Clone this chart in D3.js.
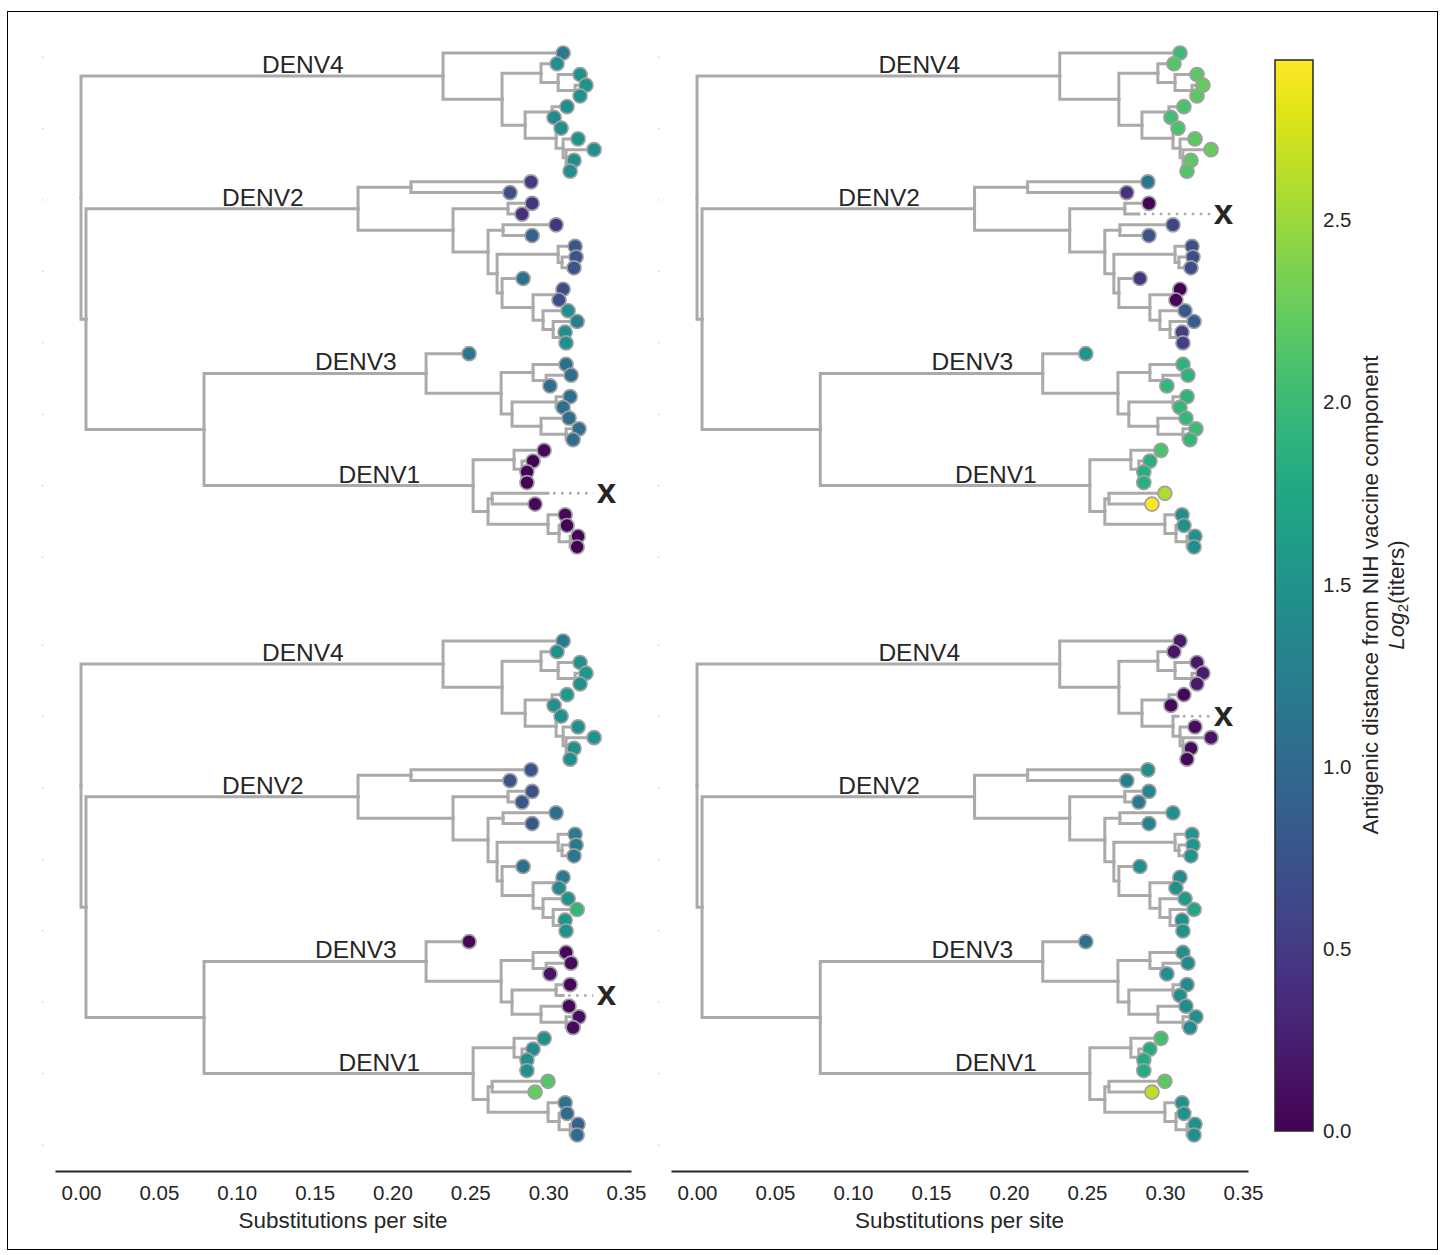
<!DOCTYPE html>
<html>
<head>
<meta charset="utf-8">
<script src="https://cdn.jsdelivr.net/npm/d3@7"></script>
<style>
  body { margin: 0; background: #fff; }
  text { font-family: "Liberation Sans", Arial, Helvetica, sans-serif; fill: #262626; }
</style>
</head>
<body>
<div id="chart"></div>
<script>
"use strict";

// tree topology, the number after ":" is cumulative divergence (substitutions per site)
var denv4Clade = "(:0.3096,((:0.3057,(:0.3205,(:0.3243,:0.3205):0.3173):0.3064):0.2954,((:0.3121,:0.3038):0.3025,(:0.3083,(:0.3192,(:0.3295,(:0.3166,:0.3141):0.3128):0.3115):0.3096):0.3051):0.2852):0.2704)DENV4:0.2325";
var denv2Clade = "((:0.2890,:0.2755):0.2119,((:0.2897,:0.2832):0.2742,((:0.3051,:0.2897):0.2710,((:0.3173,(:0.3179,:0.3166):0.3089):0.3064,(:0.2839,((:0.3096,:0.3070):0.3057,(:0.3128,(:0.3186,(:0.3109,:0.3115):0.3096):0.3032):0.2967):0.2903):0.2704):0.2672):0.2614):0.2389)DENV2:0.1779";
var denv3Clade = "(:0.2492,((:0.3115,(:0.3147,:0.3012):0.2987):0.2903,((:0.3141,:0.3096):0.3051,(:0.3134,(:0.3198,:0.3160):0.3115):0.2954):0.2768):0.2698)DENV3:0.2216";
var denv1Clade = "((:0.2974,(:0.2903,(:0.2864,:0.2864):0.2839):0.2832):0.2781,((:0.2999,:0.2916):0.2640,(:0.3109,(:0.3121,(:0.3192,:0.3186):0.3141):0.3070):0.2999):0.2614)DENV1:0.2518";
var treeNewick = "(" + denv4Clade + ",(" + denv2Clade + ",(" + denv3Clade + "," + denv1Clade + "):0.0790):0.0032):0;";

// antigenic distance per tip, in tree order (DENV4 12, DENV2 16, DENV3 9, DENV1 10); null = tip drawn as x
var valuesTopLeft = [
  1.2, 1.45, 1.5, 1.5, 1.5, 1.45, 1.4, 1.45, 1.5, 1.5, 1.45, 1.45,
  0.5, 0.72, 0.45, 0.4, 0.45, 0.9, 0.78, 0.78, 0.78, 1.1, 0.68, 0.7, 1.45, 1.25, 1.45, 1.45,
  1.15, 1.05, 1.05, 1.05, 1.05, 1.05, 1.05, 1.05, 1.05,
  0.05, 0.02, 0.02, 0.02, null, 0.05, 0.05, 0.02, 0.03, 0.02
];
var valuesTopRight = [
  2.0, 2.15, 2.2, 2.25, 2.2, 2.1, 2.05, 2.1, 2.2, 2.25, 2.2, 2.15,
  1.15, 0.42, 0.03, null, 0.6, 0.75, 0.68, 0.68, 0.7, 0.45, 0.0, 0.05, 0.8, 0.85, 0.55, 0.55,
  1.55, 1.9, 1.9, 1.95, 1.9, 1.95, 1.95, 2.0, 1.95,
  2.1, 1.85, 1.82, 1.85, 2.58, 2.93, 1.45, 1.5, 1.47, 1.43
];
var valuesBottomLeft = [
  1.2, 1.5, 1.5, 1.55, 1.5, 1.6, 1.45, 1.45, 1.5, 1.5, 1.5, 1.45,
  0.75, 0.75, 0.75, 0.78, 1.05, 0.8, 1.2, 1.2, 1.15, 1.1, 1.2, 1.4, 1.5, 1.95, 1.55, 1.5,
  0.05, 0.05, 0.08, 0.15, 0.05, null, 0.05, 0.1, 0.08,
  1.45, 1.4, 1.45, 1.45, 2.15, 2.25, 1.1, 1.0, 0.9, 1.0
];
var valuesBottomRight = [
  0.2, 0.15, 0.2, 0.22, 0.2, 0.05, 0.08, null, 0.1, 0.15, 0.08, 0.05,
  1.45, 1.25, 1.35, 1.2, 1.45, 1.3, 1.55, 1.55, 1.5, 1.45, 1.4, 1.5, 1.6, 1.75, 1.5, 1.5,
  1.1, 1.45, 1.4, 1.45, 1.4, 1.45, 1.4, 1.45, 1.4,
  2.05, 1.8, 1.8, 1.8, 2.2, 2.65, 1.5, 1.5, 1.5, 1.45
];

var xTicks = [0, 0.05, 0.1, 0.15, 0.2, 0.25, 0.3, 0.35];
var colorTicks = [0, 0.5, 1.0, 1.5, 2.0, 2.5];
var colorMax = 2.94;
var xLabel = "Substitutions per site";
var colorLabel = "Antigenic distance from NIH vaccine component";

var width = 1444, height = 1255;
var branchColor = "#aaaaaa";

function parseNewick(s) {
  var ancestors = [], tree = {}, root = tree;
  var tokens = s.split(/\s*(;|\(|\)|,|:)\s*/).filter(function (t) { return t !== ""; });
  tokens.forEach(function (t, i) {
    var sub;
    switch (t) {
      case "(":
        sub = {};
        tree.children = [sub];
        ancestors.push(tree);
        tree = sub;
        break;
      case ",":
        sub = {};
        ancestors[ancestors.length - 1].children.push(sub);
        tree = sub;
        break;
      case ")":
        tree = ancestors.pop();
        break;
      case ":":
      case ";":
        break;
      default:
        var prev = tokens[i - 1];
        if (prev === ":") tree.div = +t;
        else tree.name = t;
    }
  });
  return root;
}

var root = d3.hierarchy(parseNewick(treeNewick));
var leaves = root.leaves();
root.eachAfter(function (n) {
  if (!n.children) n.idx = leaves.indexOf(n);
  else n.idx = (n.children[0].idx + n.children[n.children.length - 1].idx) / 2;
});

var color = d3.scaleSequential(d3.interpolateViridis).domain([0, colorMax]);

var svg = d3.select("#chart").append("svg")
    .attr("width", width)
    .attr("height", height);

svg.append("rect").attr("width", width).attr("height", height).attr("fill", "#fff");
svg.append("rect")
    .attr("x", 7.5).attr("y", 11.5)
    .attr("width", 1430).attr("height", 1238)
    .attr("fill", "none").attr("stroke", "#000").attr("stroke-width", 1);

var xDomain = [-0.0167, 0.3532];
var colRange = [[55, 631], [671, 1248]];
var rowRange = [[53, 547], [641, 1135]];

var panels = [
  {col: 0, row: 0, values: valuesTopLeft},
  {col: 1, row: 0, values: valuesTopRight},
  {col: 0, row: 1, values: valuesBottomLeft},
  {col: 1, row: 1, values: valuesBottomRight}
];

panels.forEach(function (p) {
  var x = d3.scaleLinear().domain(xDomain).range(colRange[p.col]);
  var y = d3.scaleLinear().domain([0, leaves.length - 1]).range(rowRange[p.row]);
  var g = svg.append("g").attr("class", "panel");

  // faint y tick specks
  var tickY = d3.scaleLinear().domain([0, 7]).range([rowRange[p.row][0] + 4, rowRange[p.row][1] + 10]);
  g.selectAll("rect.speck").data(d3.range(8)).join("rect")
      .attr("class", "speck")
      .attr("x", colRange[p.col][0] - 13).attr("y", function (d) { return tickY(d) - 0.5; })
      .attr("width", 1.2).attr("height", 1.2).attr("fill", "#c8c8c8");

  // branches as elbows
  g.append("g").selectAll("path")
    .data(root.descendants().filter(function (n) { return n.parent; }))
    .join("path")
      .attr("fill", "none")
      .attr("stroke", branchColor)
      .attr("stroke-width", 3)
      .attr("stroke-linecap", "square")
      .attr("d", function (n) {
        return "M" + x(n.parent.data.div) + "," + y(n.parent.idx) +
               "V" + y(n.idx) + "H" + x(n.data.div);
      });

  // clade labels
  g.selectAll("text.clade")
    .data(root.descendants().filter(function (n) { return n.data.name; }))
    .join("text")
      .attr("class", "clade")
      .attr("x", function (n) { return (x(n.parent.data.div) + x(n.data.div)) / 2; })
      .attr("y", function (n) { return y(n.idx) - 3; })
      .attr("font-size", 24.5)
      .text(function (n) { return n.data.name; });

  var tips = leaves.map(function (n, i) { return {node: n, value: p.values[i]}; });
  var missing = tips.filter(function (t) { return t.value === null; });
  var present = tips.filter(function (t) { return t.value !== null; });

  g.selectAll("line.missing").data(missing).join("line")
      .attr("class", "missing")
      .attr("x1", function (t) { return x(t.node.data.div) + 5; })
      .attr("x2", x(0.329))
      .attr("y1", function (t) { return y(t.node.idx); })
      .attr("y2", function (t) { return y(t.node.idx); })
      .attr("stroke", branchColor)
      .attr("stroke-width", 2.5)
      .attr("stroke-dasharray", "2.5 5.5");
  g.selectAll("text.missing").data(missing).join("text")
      .attr("class", "missing")
      .attr("x", x(0.3375))
      .attr("y", function (t) { return y(t.node.idx); })
      .attr("dy", "0.27em")
      .attr("text-anchor", "middle")
      .attr("font-size", 35)
      .attr("font-weight", "bold")
      .text("x");

  g.selectAll("circle.tip").data(present).join("circle")
      .attr("class", "tip")
      .attr("cx", function (t) { return x(t.node.data.div); })
      .attr("cy", function (t) { return y(t.node.idx); })
      .attr("r", 7)
      .attr("fill", function (t) { return color(t.value); })
      .attr("stroke", "#a0a0a0")
      .attr("stroke-width", 1.7);
});

// bottom axes
[0, 1].forEach(function (c) {
  var x = d3.scaleLinear().domain(xDomain).range(colRange[c]);
  var ax = svg.append("g")
      .attr("transform", "translate(0,1171)")
      .call(d3.axisBottom(x).tickValues(xTicks).tickFormat(d3.format(".2f")).tickSize(0).tickSizeOuter(0).tickPadding(14));
  ax.select(".domain").attr("stroke", "#262626").attr("stroke-width", 2);
  ax.selectAll("text").attr("font-size", 20.5).attr("fill", "#262626")
      .style("font-family", "'Liberation Sans', Arial, sans-serif");
  svg.append("text")
      .attr("x", (colRange[c][0] + colRange[c][1]) / 2)
      .attr("y", 1228)
      .attr("text-anchor", "middle")
      .attr("font-size", 22.5)
      .text(xLabel);
});

// colour bar
var cbY = d3.scaleLinear().domain([0, colorMax]).range([1131, 60]);
var defs = svg.append("defs");
var grad = defs.append("linearGradient").attr("id", "viridisGrad")
    .attr("x1", 0).attr("y1", 1).attr("x2", 0).attr("y2", 0);
d3.range(0, 1.0001, 0.05).forEach(function (t) {
  grad.append("stop").attr("offset", t).attr("stop-color", d3.interpolateViridis(t));
});
svg.append("rect")
    .attr("x", 1275).attr("y", cbY(colorMax))
    .attr("width", 38).attr("height", cbY(0) - cbY(colorMax))
    .attr("fill", "url(#viridisGrad)")
    .attr("stroke", "#262626").attr("stroke-width", 1.5);
var cbAxis = svg.append("g")
    .attr("transform", "translate(1313,0)")
    .call(d3.axisRight(cbY).tickValues(colorTicks).tickFormat(d3.format(".1f")).tickSize(0).tickPadding(10));
cbAxis.select(".domain").remove();
cbAxis.selectAll("text").attr("font-size", 20.5).attr("fill", "#262626")
    .style("font-family", "'Liberation Sans', Arial, sans-serif");

svg.append("text")
    .attr("transform", "translate(1370,595) rotate(-90)")
    .attr("text-anchor", "middle")
    .attr("dy", "0.35em")
    .attr("font-size", 22.5)
    .text(colorLabel);
var sub = svg.append("text")
    .attr("transform", "translate(1396,595) rotate(-90)")
    .attr("text-anchor", "middle")
    .attr("dy", "0.35em")
    .attr("font-size", 22.5);
sub.append("tspan").attr("font-style", "italic").text("Log");
sub.append("tspan").attr("font-size", 15).attr("dy", "0.3em").text("2");
sub.append("tspan").attr("dy", "-0.2em").text("(titers)");
</script>
</body>
</html>
